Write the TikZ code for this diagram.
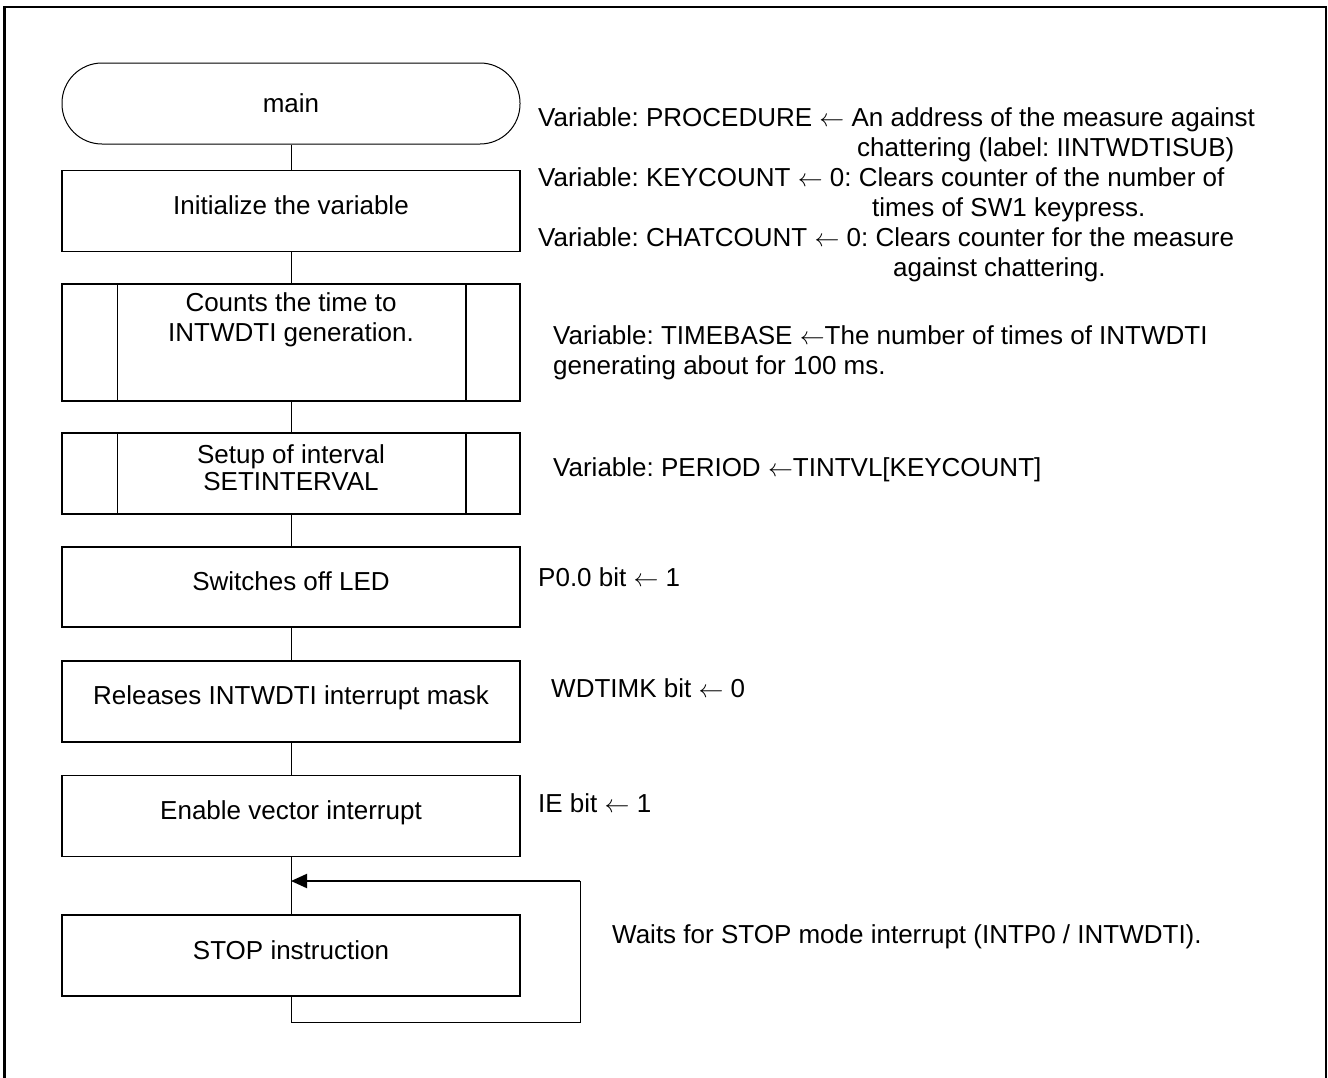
\documentclass[tikz,border=0pt]{standalone}
\usepackage{fontspec}
\setmainfont{Liberation Sans}
\usetikzlibrary{positioning,arrows.meta}
\frenchspacing

\begin{document}
\begin{tikzpicture}[x=1pt,y=-1pt,node distance=31pt,
		every node/.style={font=\fontsize{26pt}{30pt}\selectfont},
		term/.style={rectangle,draw,line width=1pt,rounded corners=40pt,minimum width=458pt,minimum height=81pt,inner sep=0pt},
		proc/.style={rectangle,draw,line width=1.8pt,minimum width=458pt,minimum height=81pt,inner sep=0pt,align=center,
			execute at end node={\rule[-12pt]{0pt}{12pt}}},
		note/.style={anchor=west,inner sep=0pt,align=left},
		flow/.style={line width=1pt}]
		
		\useasboundingbox (0,0) rectangle (1328,1077);
		\draw[line width=2.4pt] (4.5,7) rectangle (1326,1100);
		
		\node[term] (main) at (291,103.5) {main};
		\node[proc] (init) [below=25pt of main] {Initialize the variable};
		\node[proc,minimum height=117pt] (counts) [below=of init]
		{}; % text sits at the top
		\node[inner sep=0pt,align=center,anchor=north] (countstxt) at ([yshift=-9pt]counts.north)
		{Counts the time to\\INTWDTI generation.};
		\node[proc,font=\fontsize{26pt}{27pt}\selectfont] (setup) [below=30pt of counts]
		{Setup of interval\\SETINTERVAL};
		\node[proc,minimum height=80pt] (ledoff) [below=of setup] {Switches off LED};
		\node[proc] (unmask) [below=32pt of ledoff] {Releases INTWDTI interrupt mask};
		\node[proc] (enable) [below=32pt of unmask] {Enable vector interrupt};
		\node[proc] (stop) [below=57pt of enable] {STOP instruction};
		
		% double side bars of the subroutine boxes
		\foreach \s in {counts,setup} {
			\draw[line width=1.2pt] ([xshift=56pt]\s.north west) -- ([xshift=56pt]\s.south west);
			\draw[line width=1.2pt] ([xshift=-55pt]\s.north east) -- ([xshift=-55pt]\s.south east);
		}
		
		\foreach \a/\b in {main/init,init/counts,counts/setup,setup/ledoff,ledoff/unmask,unmask/enable,enable/stop}
		\draw[flow] (\a) -- (\b);
		
		% STOP loop
		\coordinate (loopbr) at (580,1022);
		\coordinate (looptr) at (580,881);
		\coordinate (join) at (291,881);
		\draw[flow] (stop.south) |- (loopbr) -- (looptr);
		\draw[line width=2pt,-{Triangle[length=16pt,width=14pt]}] (looptr) -- (join);
		
		% notes
		\node[note,anchor=north west] (initnote) at (538,107)
		{\fontsize{26pt}{30.4pt}\selectfont
			Variable: PROCEDURE $\leftarrow$ An address of the measure against\\
			\hspace*{319pt}chattering (label: IINTWDTISUB)\\
			Variable: KEYCOUNT $\leftarrow$ 0: Clears counter of the number of\\
			\hspace*{334pt}times of SW1 keypress.\\
			Variable: CHATCOUNT $\leftarrow$ 0: Clears counter for the measure\\
			\hspace*{355pt}against chattering.};
		\node[note,anchor=north west] (countsnote) at (553,325)
		{Variable: TIMEBASE $\leftarrow$The number of times of INTWDTI\\
			generating about for 100 ms.};
		\node[note] (setupnote) at (553,470) {Variable: PERIOD $\leftarrow$TINTVL[KEYCOUNT]};
		\node[note] (ledoffnote) at (538,577) {P0.0 bit $\leftarrow$ 1};
		\node[note] (unmasknote) at (551,688) {WDTIMK bit $\leftarrow$ 0};
		\node[note] (enablenote) at (538,803) {IE bit $\leftarrow$ 1};
		\node[note] (stopnote) at (612,937) {Waits for STOP mode interrupt (INTP0 / INTWDTI).};
		
\end{tikzpicture}
\end{document}
